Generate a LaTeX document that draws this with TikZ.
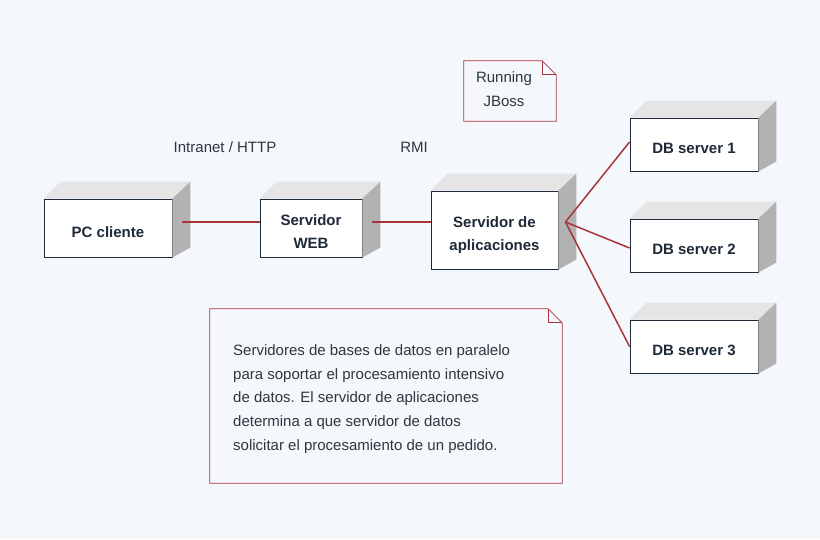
\documentclass[tikz,border=0pt]{standalone}
\usepackage{fontspec}
\setmainfont{Liberation Sans}
\usetikzlibrary{positioning}
\usetikzlibrary{shapes}
\definecolor{bgcol}{HTML}{F4F8FD}
\definecolor{linkcol}{HTML}{A8343A}
\definecolor{edgecol}{HTML}{1E2A38}
\definecolor{txtcol}{HTML}{30363E}

\begin{document}
\begin{tikzpicture}[x=1pt, y=-1pt]
    \tikzstyle{nodebox} = [draw=edgecol, fill=white, rectangle, line width=0.9pt,
    text=edgecol, font=\bfseries\fontsize{15}{23}\selectfont, align=center, inner sep=0pt,
    text height=18pt, text depth=0pt];
    \tikzstyle{twoline} = [text height=41pt, text depth=0pt];
    \tikzstyle{topface} = [fill=black!10];
    \tikzstyle{sideface} = [fill=black!30];
    \tikzstyle{link} = [draw=linkcol, line width=1.5pt];
    \tikzstyle{notebox} = [rectangle, text=txtcol, inner sep=0pt,
    font=\fontsize{15}{23.7}\selectfont];
    \tikzstyle{noteline} = [draw=linkcol, line width=0.8pt];
    \tikzstyle{label} = [text=txtcol, font=\fontsize{15}{18}\selectfont];
    \fill[bgcol] (0,0) rectangle (820,539);
    % nodes
    \node [nodebox, minimum width=128pt, minimum height=58pt] (pc) at (108,228) {PC cliente};
    \node [nodebox, twoline, minimum width=102pt, minimum height=58pt] (web) at (311,228) {Servidor\\WEB};
    \node [nodebox, twoline, minimum width=127pt, minimum height=78pt] (app) at (494.5,230) {Servidor de\\aplicaciones};
    \node [nodebox, minimum width=128pt, minimum height=53pt] (db1) at (694,144.5) {DB server 1};
    \node [nodebox, minimum width=128pt, minimum height=53pt] (db2) at (694,245.5) {DB server 2};
    \node [nodebox, minimum width=128pt, minimum height=53pt] (db3) at (694,346.5) {DB server 3};
    \foreach \n in {pc,web,app,db1,db2,db3} {
        \fill[topface] (\n.north west) -- ++(17,-17) -- ([shift={(18,-17)}]\n.north east) -- (\n.north east) -- cycle;
        \fill[sideface] (\n.north east) -- ++(18,-17) -- ([shift={(18,-10)}]\n.south east) -- (\n.south east) -- cycle;
    }
    % labels
    \node [label] (http) at (225,147) {Intranet / HTTP};
    \node [label] (rmi) at (414,147) {RMI};
    % connectors
    \coordinate (fan) at ([shift={(7,-8)}]app.east);
    \draw[link] ([shift={(10,-6)}]pc.east) -- ([yshift=6pt]web.west);
    \draw[link] ([shift={(10,-6)}]web.east) -- ([yshift=8pt]app.west);
    \draw[link] (fan) -- ([yshift=2.5pt]db1.west);
    \draw[link] (fan) -- ([yshift=-2.5pt]db2.west);
    \draw[link] (fan) -- (db3.west);
    % notes
    \node [notebox, minimum width=92pt, minimum height=60pt] (jboss) at (510,91) {};
    \draw[noteline] (jboss.north west) -- ([xshift=-14pt]jboss.north east) -- ([yshift=-14pt]jboss.north east)
        -- (jboss.south east) -- (jboss.south west) -- cycle;
    \draw[noteline] ([xshift=-14pt]jboss.north east) |- ([yshift=-14pt]jboss.north east);
    \node [label, align=center, font=\fontsize{15}{23.7}\selectfont] (jbosstext) at (504,89) {Running\\JBoss};
    \node [notebox, minimum width=352pt, minimum height=174pt] (info) at (386,396) {};
    \draw[noteline] (info.north west) -- ([xshift=-14pt]info.north east) -- ([yshift=-14pt]info.north east)
        -- (info.south east) -- (info.south west) -- cycle;
    \draw[noteline] ([xshift=-14pt]info.north east) |- ([yshift=-14pt]info.north east);
    \node [notebox, align=left, anchor=west] (infotext) at (233,399) {Servidores de bases de datos en paralelo\\
        para soportar el procesamiento intensivo\\de datos. El servidor de aplicaciones\\
        determina a que servidor de datos\\solicitar el procesamiento de un pedido.};
\end{tikzpicture}
\end{document}
